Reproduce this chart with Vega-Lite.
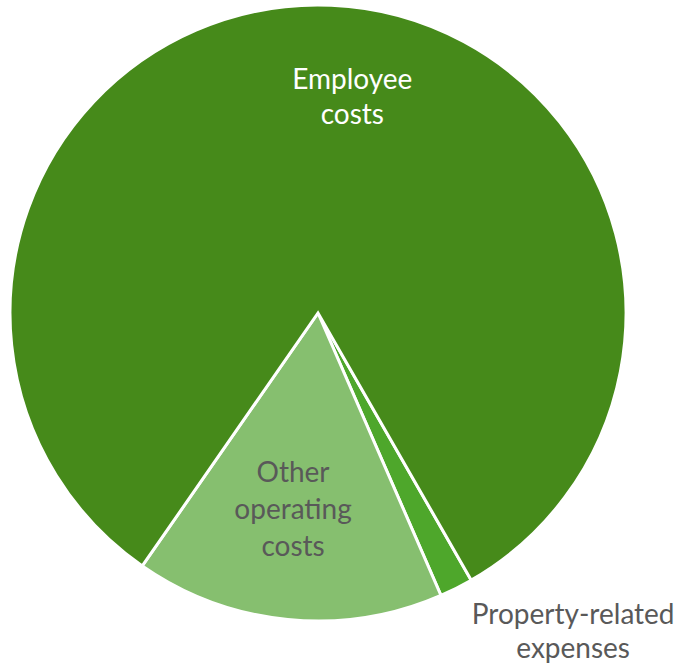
{
  "$schema": "https://vega.github.io/schema/vega-lite/v6.json",
  "width": 636,
  "height": 626,
  "autosize": "none",
  "padding": {"left": 0, "top": 0, "right": 43, "bottom": 39},
  "background": "white",
  "view": {"stroke": null},
  "data": {
    "values": [
      {"cat": "Property-related expenses", "label": "Property-related\nexpenses", "value": 1.75, "idx": 0},
      {"cat": "Other operating costs", "label": "Other\noperating\ncosts", "value": 16.2, "idx": 1},
      {"cat": "Employee costs", "label": "Employee\ncosts", "value": 82.05, "idx": 2}
    ]
  },
  "encoding": {
    "theta": {"field": "value", "type": "quantitative", "stack": true, "scale": {"range": [2.621, 8.904]}},
    "order": {"field": "idx", "type": "quantitative"}
  },
  "layer": [
    {
      "mark": {"type": "arc", "radius": 308, "stroke": "white", "strokeWidth": 3},
      "encoding": {
        "color": {
          "field": "cat", "type": "nominal", "legend": null,
          "scale": {"domain": ["Employee costs", "Property-related expenses", "Other operating costs"], "range": ["#468A1A", "#4EA72B", "#86BF6F"]}
        }
      }
    },
    {
      "mark": {"type": "text", "radius": 216, "dx": 25, "dy": -16, "font": "Lato", "fontSize": 28, "lineBreak": "\n", "lineHeight": 35, "fill": "white", "baseline": "middle"},
      "encoding": {
        "text": {"condition": {"test": "datum.cat === 'Employee costs'", "field": "label", "type": "nominal"}, "value": ""}
      }
    },
    {
      "mark": {"type": "text", "radius": 193, "dx": -6, "dy": -31, "font": "Lato", "fontSize": 28, "lineBreak": "\n", "lineHeight": 37, "fill": "#595959", "baseline": "middle"},
      "encoding": {
        "text": {"condition": {"test": "datum.cat === 'Other operating costs'", "field": "label", "type": "nominal"}, "value": ""}
      }
    },
    {
      "mark": {"type": "text", "radius": 330, "dx": 107, "dy": 8, "font": "Lato", "fontSize": 28, "lineBreak": "\n", "lineHeight": 34, "fill": "#595959", "baseline": "middle"},
      "encoding": {
        "text": {"condition": {"test": "datum.cat === 'Property-related expenses'", "field": "label", "type": "nominal"}, "value": ""}
      }
    }
  ]
}
